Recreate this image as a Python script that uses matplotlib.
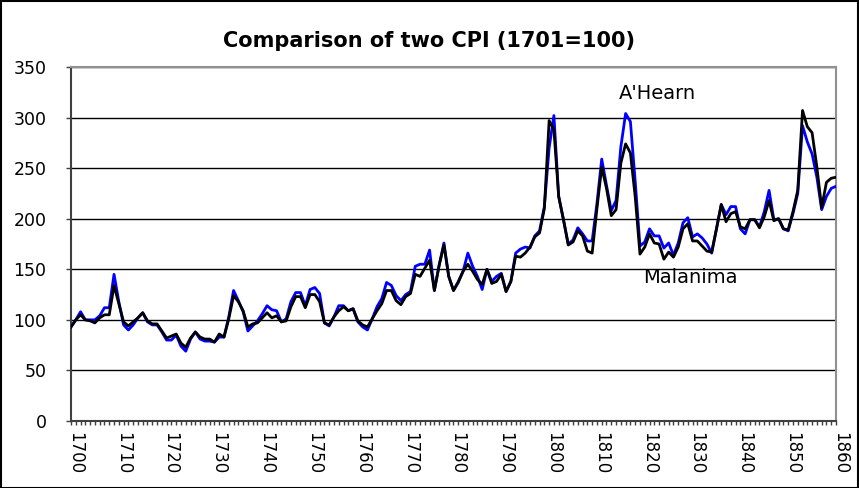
import matplotlib
matplotlib.use("Agg")
import matplotlib.pyplot as plt
from matplotlib.transforms import ScaledTranslation
from matplotlib.patches import Rectangle
import numpy as np

years = list(range(1700, 1861))

ahearn = [93,100,108,100,100,100,104,112,112,145,
          118,95,90,95,102,107,98,95,95,88,
          80,80,85,74,69,81,88,81,79,79,
          78,83,83,103,129,119,108,89,94,99,
          106,114,110,109,98,101,118,127,127,114,
          130,132,126,97,94,103,114,114,109,111,
          98,93,90,101,113,121,137,134,124,119,
          125,128,153,155,155,169,129,154,176,143,
          129,138,148,166,153,143,130,150,138,143,
          146,128,138,166,170,172,171,183,188,212,
          270,302,222,199,175,179,191,185,178,178,
          215,259,233,208,218,271,304,296,237,173,
          177,190,183,183,171,176,164,176,196,201,
          182,185,181,175,166,190,214,204,212,212,
          190,185,199,199,192,207,228,199,200,190,
          188,205,225,292,276,264,241,209,222,230,
          232]

malanima = [93,100,105,100,99,97,102,105,105,134,
            116,98,94,98,102,107,99,96,96,89,
            82,84,86,77,73,82,88,83,81,81,
            78,86,83,101,124,118,109,93,96,97,
            102,107,102,104,98,99,113,123,123,112,
            125,125,118,97,95,103,109,113,109,111,
            99,95,93,101,109,116,129,129,119,115,
            123,126,145,143,151,159,129,154,174,143,
            129,137,148,155,148,140,135,150,136,138,
            145,128,138,163,162,166,172,182,186,210,
            297,288,222,199,174,177,188,183,168,166,
            210,251,230,203,209,255,274,265,222,165,
            172,185,176,175,160,167,162,172,190,195,
            178,178,173,168,167,190,214,197,205,207,
            192,190,199,199,191,202,218,198,200,190,
            189,207,228,307,291,285,251,211,236,240,
            241]

title = "Comparison of two CPI (1701=100)"
yticks = [0, 50, 100, 150, 200, 250, 300, 350]
label_years = list(range(1700, 1861, 10))

W, H, DPI = 859, 488, 100
fig = plt.figure(figsize=(W / DPI, H / DPI), dpi=DPI)
fig.patch.set_facecolor("white")
ax = fig.add_axes([71 / W, 1 - 421 / H, (836 - 71) / W, (421 - 67) / H])

ax.plot(years, ahearn, color="#0000FF", lw=2.0, zorder=3)
ax.plot(years, malanima, color="black", lw=2.0, zorder=4)

ax.set_xlim(1700, 1860)
ax.set_ylim(0, 350)
ax.set_yticks(yticks)
ax.yaxis.grid(True, color="black", lw=1.0)
ax.set_axisbelow(True)

ax.set_xticks(years)
ax.set_xticklabels([str(y) if y in label_years else "" for y in years])
ax.tick_params(axis="x", direction="out", length=3, width=1, labelrotation=-90,
               labelsize=12, pad=5, color="#404040")
ax.tick_params(axis="y", direction="out", length=3.6, width=1, labelsize=12.5,
               pad=14, color="#404040")
for lab in ax.get_xticklabels():
    lab.set_transform(lab.get_transform() + ScaledTranslation(4 / DPI, 0, fig.dpi_scale_trans))

for s in ["left", "bottom"]:
    ax.spines[s].set_color("#404040")
    ax.spines[s].set_linewidth(1.5)
for s in ["top", "right"]:
    ax.spines[s].set_color("#909090")
    ax.spines[s].set_linewidth(1.5)

ax.text(1814.5, 324, "A'Hearn", fontsize=14, ha="left", va="center")
ax.text(1819.7, 142, "Malanima", fontsize=14, ha="left", va="center")

fig.text(429 / W, 1 - 41 / H, title, fontsize=15, fontweight="bold",
         ha="center", va="center")

fig.add_artist(Rectangle((0.5 / W, 0.5 / H), 1 - 1.5 / W, 1 - 1.5 / H,
                         transform=fig.transFigure, fill=False,
                         edgecolor="black", lw=1.5))

fig.savefig("out.png", dpi=DPI)
